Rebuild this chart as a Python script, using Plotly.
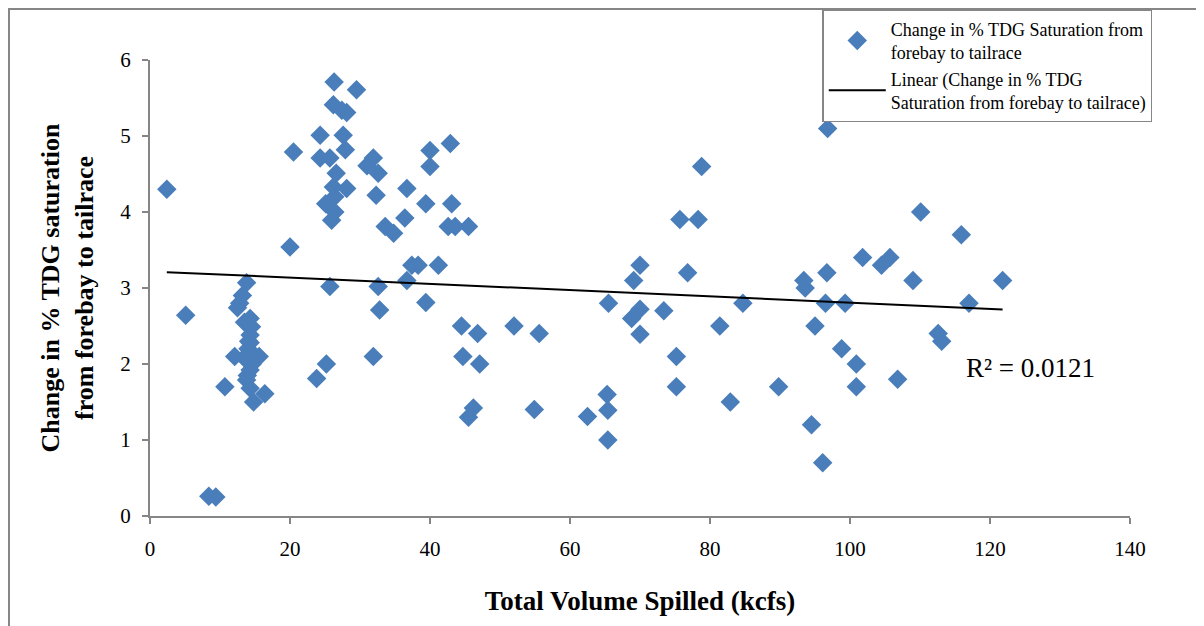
import numpy as np
import plotly.graph_objects as go

# Total volume spilled (kcfs)
spill_kcfs = [
    2.4, 5.1, 8.4, 9.4, 10.7, 13.8, 13.2, 12.5, 14.3, 14.5, 14.3, 14.3, 12.1, 15.6, 13.8,
    14.3, 13.8, 14.3, 14.8, 16.4, 14.0, 13.5, 12.8, 20.0, 20.5, 23.8, 25.2, 25.7, 24.3, 24.3,
    25.1, 25.7, 26.2, 26.4, 26.4, 25.95, 26.6, 26.3, 26.2, 27.4, 28.1, 27.6, 27.9, 28.1, 29.5,
    31.0, 31.9, 32.6, 32.3, 31.9, 32.6, 32.8, 33.6, 34.8, 36.4, 36.7, 36.7, 37.4, 38.3, 39.4,
    39.4, 40.0, 40.0, 41.2, 42.9, 43.1, 42.6, 43.6, 45.5, 44.5, 44.7, 46.8, 47.1, 46.2, 45.5,
    52.0, 55.6, 54.9, 62.5, 65.3, 65.4, 65.4, 65.5, 68.8, 69.1, 70.0, 70.0, 70.0, 73.4, 75.2,
    75.2, 75.7, 76.8, 78.3, 78.8, 81.4, 82.9, 84.7, 89.8, 93.4, 93.6, 94.5, 95.0, 96.1, 96.5,
    96.7, 96.8, 98.8, 99.3, 100.9, 100.9, 101.8, 104.5, 105.7, 106.8, 109.0, 110.1, 112.6, 113.1, 115.9,
    117.0, 121.8, 14.1, 14.6, 13.9, 14.2,
]
# Change in % TDG saturation from forebay to tailrace
tdg_change = [
    4.3, 2.64, 0.26, 0.25, 1.7, 3.07, 2.9, 2.74, 2.6, 2.49, 2.38, 2.28, 2.1, 2.1, 2.05,
    1.92, 1.79, 1.68, 1.5, 1.61, 2.2, 2.55, 2.8, 3.54, 4.79, 1.81, 2.0, 3.02, 5.01, 4.71,
    4.11, 4.71, 4.33, 4.2, 4.0, 3.89, 4.51, 5.71, 5.41, 5.34, 5.31, 5.01, 4.82, 4.31, 5.61,
    4.61, 4.71, 4.51, 4.22, 2.1, 3.02, 2.71, 3.81, 3.72, 3.92, 4.31, 3.1, 3.3, 3.3, 4.11,
    2.81, 4.81, 4.6, 3.3, 4.9, 4.11, 3.81, 3.81, 3.81, 2.5, 2.1, 2.4, 2.0, 1.42, 1.3,
    2.5, 2.4, 1.4, 1.31, 1.6, 1.39, 1.0, 2.8, 2.6, 3.1, 3.3, 2.72, 2.39, 2.7, 2.1,
    1.7, 3.9, 3.2, 3.9, 4.6, 2.5, 1.5, 2.8, 1.7, 3.1, 3.0, 1.2, 2.5, 0.7, 2.8,
    3.2, 5.1, 2.2, 2.8, 2.0, 1.7, 3.4, 3.3, 3.4, 1.8, 3.1, 4.0, 2.4, 2.3, 3.7,
    2.8, 3.1, 2.3, 2.0, 1.85, 2.15,
]
x_ticks = [0, 20, 40, 60, 80, 100, 120, 140]
y_ticks = [0, 1, 2, 3, 4, 5, 6]
r2_label = "R² = 0.0121"

series_name = "Change in % TDG Saturation from<br>forebay to tailrace"
trend_name = "Linear (Change in % TDG<br>Saturation from forebay to tailrace)"

# linear trendline computed from the data
xs = np.array(spill_kcfs)
ys = np.array(tdg_change)
slope, intercept = np.polyfit(xs, ys, 1)
trend_x = [xs.min(), xs.max()]
trend_y = [slope * v + intercept for v in trend_x]

FONT = "Liberation Serif, Times New Roman, serif"
GRAY = "#868686"

fig = go.Figure()
fig.add_trace(go.Scatter(
    x=spill_kcfs, y=tdg_change, mode="markers", name=series_name,
    marker=dict(symbol="diamond", size=15, color="#4A7EBB", line=dict(width=0)),
))
fig.add_trace(go.Scatter(
    x=trend_x, y=trend_y, mode="lines", name=trend_name,
    line=dict(color="black", width=2),
))

fig.update_layout(
    width=1196, height=618,
    margin=dict(l=142, r=74, t=52, b=110, autoexpand=False),
    paper_bgcolor="white", plot_bgcolor="white",
    font=dict(family=FONT, size=21, color="black"),
    showlegend=True,
    legend=dict(
        x=0.686, y=1.1118, xanchor="left", yanchor="top",
        bordercolor=GRAY, borderwidth=1.5, bgcolor="white",
        font=dict(family=FONT, size=18), tracegroupgap=0,
        itemwidth=57,
    ),
    xaxis=dict(
        range=[0, 140], tickvals=x_ticks, ticks="outside", ticklen=6,
        tickcolor=GRAY, tickwidth=1.5, showline=True, linecolor=GRAY, linewidth=2,
        showgrid=False, zeroline=False, ticklabelstandoff=7,
        tickfont=dict(family=FONT, size=21),
        title=dict(text="<b>Total Volume Spilled (kcfs)</b>", font=dict(family=FONT, size=27), standoff=31),
    ),
    yaxis=dict(
        range=[0, 6], tickvals=y_ticks, ticks="outside", ticklen=6,
        tickcolor=GRAY, tickwidth=1.5, showline=True, linecolor=GRAY, linewidth=2,
        showgrid=False, zeroline=False, ticklabelstandoff=7,
        tickfont=dict(family=FONT, size=21),
        title=dict(text="<b>Change in % TDG saturation<br>from forebay to tailrace</b>",
                   font=dict(family=FONT, size=26), standoff=19),
    ),
)

# outer chart frame
fig.add_shape(type="rect", xref="paper", yref="paper",
              x0=-0.1439, x1=1.09, y0=-0.27, y1=1.1118,
              line=dict(color=GRAY, width=2), layer="below")

fig.add_annotation(x=125.8, y=1.95, text=r2_label, showarrow=False,
                   font=dict(family=FONT, size=27, color="black"))

fig.write_html("out.html")
